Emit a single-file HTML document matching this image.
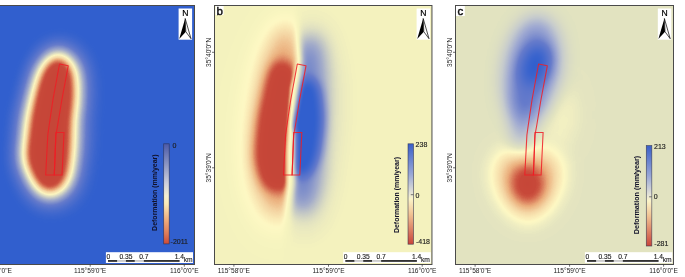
<!DOCTYPE html>
<html><head><meta charset="utf-8"><style>
html,body{margin:0;padding:0;background:#fff;width:685px;height:277px;overflow:hidden;}
svg{display:block;}
</style></head><body>
<svg width="685" height="277" viewBox="0 0 685 277">
<defs><filter id="bl1" x="-150%" y="-150%" width="400%" height="400%" color-interpolation-filters="sRGB"><feGaussianBlur stdDeviation="1"/></filter><filter id="bl1_5" x="-150%" y="-150%" width="400%" height="400%" color-interpolation-filters="sRGB"><feGaussianBlur stdDeviation="1.5"/></filter><filter id="bl2" x="-150%" y="-150%" width="400%" height="400%" color-interpolation-filters="sRGB"><feGaussianBlur stdDeviation="2"/></filter><filter id="bl2_5" x="-150%" y="-150%" width="400%" height="400%" color-interpolation-filters="sRGB"><feGaussianBlur stdDeviation="2.5"/></filter><filter id="bl3" x="-150%" y="-150%" width="400%" height="400%" color-interpolation-filters="sRGB"><feGaussianBlur stdDeviation="3"/></filter><filter id="bl3_5" x="-150%" y="-150%" width="400%" height="400%" color-interpolation-filters="sRGB"><feGaussianBlur stdDeviation="3.5"/></filter><filter id="bl4" x="-150%" y="-150%" width="400%" height="400%" color-interpolation-filters="sRGB"><feGaussianBlur stdDeviation="4"/></filter><filter id="bl5" x="-150%" y="-150%" width="400%" height="400%" color-interpolation-filters="sRGB"><feGaussianBlur stdDeviation="5"/></filter><filter id="bl6" x="-150%" y="-150%" width="400%" height="400%" color-interpolation-filters="sRGB"><feGaussianBlur stdDeviation="6"/></filter><filter id="bl7" x="-150%" y="-150%" width="400%" height="400%" color-interpolation-filters="sRGB"><feGaussianBlur stdDeviation="7"/></filter><filter id="bl8" x="-150%" y="-150%" width="400%" height="400%" color-interpolation-filters="sRGB"><feGaussianBlur stdDeviation="8"/></filter><filter id="bl9" x="-150%" y="-150%" width="400%" height="400%" color-interpolation-filters="sRGB"><feGaussianBlur stdDeviation="9"/></filter><filter id="bl10" x="-150%" y="-150%" width="400%" height="400%" color-interpolation-filters="sRGB"><feGaussianBlur stdDeviation="10"/></filter><filter id="bl12" x="-150%" y="-150%" width="400%" height="400%" color-interpolation-filters="sRGB"><feGaussianBlur stdDeviation="12"/></filter><filter id="bl14" x="-150%" y="-150%" width="400%" height="400%" color-interpolation-filters="sRGB"><feGaussianBlur stdDeviation="14"/></filter><filter id="cmA" filterUnits="userSpaceOnUse" x="-30" y="0" width="230" height="270" color-interpolation-filters="sRGB"><feComponentTransfer><feFuncR type="table" tableValues="0.776 0.777 0.778 0.779 0.780 0.781 0.782 0.783 0.784 0.789 0.795 0.801 0.811 0.822 0.834 0.845 0.857 0.868 0.880 0.892 0.903 0.915 0.924 0.930 0.936 0.943 0.949 0.955 0.961 0.964 0.966 0.969 0.972 0.974 0.977 0.980 0.983 0.985 0.988 0.975 0.961 0.946 0.932 0.917 0.903 0.888 0.874 0.859 0.845 0.830 0.816 0.801 0.788 0.775 0.761 0.748 0.735 0.722 0.708 0.695 0.682 0.668 0.655 0.642 0.630 0.620 0.610 0.599 0.589 0.579 0.568 0.558 0.548 0.538 0.527 0.517 0.507 0.496 0.486 0.476 0.465 0.455 0.445 0.435 0.424 0.414 0.404 0.396 0.391 0.385 0.380 0.374 0.369 0.363 0.358 0.352 0.347 0.341 0.336 0.330 0.324 0.319 0.313 0.308 0.302 0.297 0.291 0.286 0.280 0.275 0.269 0.264 0.258 0.252 0.247 0.241 0.236 0.230 0.225 0.219 0.214 0.208 0.203 0.197 0.196 0.196 0.196 0.196"/><feFuncG type="table" tableValues="0.275 0.276 0.277 0.279 0.280 0.282 0.283 0.284 0.286 0.297 0.312 0.327 0.353 0.388 0.423 0.457 0.492 0.527 0.562 0.596 0.631 0.666 0.696 0.721 0.746 0.771 0.795 0.820 0.844 0.856 0.868 0.880 0.892 0.904 0.916 0.928 0.940 0.952 0.964 0.954 0.942 0.931 0.919 0.907 0.895 0.884 0.872 0.860 0.849 0.837 0.825 0.813 0.802 0.791 0.779 0.768 0.756 0.745 0.733 0.722 0.711 0.699 0.688 0.676 0.666 0.658 0.650 0.642 0.634 0.625 0.617 0.609 0.601 0.592 0.584 0.576 0.568 0.559 0.551 0.543 0.535 0.526 0.518 0.510 0.502 0.494 0.485 0.481 0.478 0.475 0.472 0.469 0.466 0.463 0.460 0.458 0.455 0.452 0.449 0.446 0.443 0.440 0.437 0.435 0.432 0.429 0.426 0.423 0.420 0.417 0.414 0.412 0.409 0.406 0.403 0.400 0.397 0.394 0.391 0.389 0.386 0.383 0.380 0.377 0.376 0.376 0.376 0.376"/><feFuncB type="table" tableValues="0.220 0.221 0.222 0.222 0.223 0.224 0.225 0.226 0.227 0.234 0.243 0.251 0.268 0.291 0.314 0.338 0.361 0.384 0.407 0.430 0.453 0.477 0.500 0.525 0.550 0.574 0.599 0.624 0.648 0.658 0.669 0.679 0.689 0.700 0.710 0.721 0.731 0.741 0.752 0.754 0.755 0.757 0.758 0.759 0.760 0.761 0.763 0.764 0.765 0.766 0.768 0.769 0.771 0.773 0.775 0.776 0.778 0.780 0.782 0.784 0.786 0.788 0.789 0.791 0.792 0.792 0.793 0.793 0.793 0.793 0.793 0.793 0.794 0.794 0.794 0.794 0.794 0.794 0.795 0.795 0.795 0.795 0.795 0.796 0.796 0.796 0.796 0.796 0.797 0.797 0.797 0.798 0.798 0.798 0.799 0.799 0.799 0.799 0.800 0.800 0.800 0.801 0.801 0.801 0.802 0.802 0.802 0.803 0.803 0.803 0.804 0.804 0.804 0.805 0.805 0.805 0.806 0.806 0.806 0.807 0.807 0.807 0.807 0.808 0.808 0.808 0.808 0.808"/></feComponentTransfer></filter><filter id="cmB" filterUnits="userSpaceOnUse" x="210" y="0" width="230" height="270" color-interpolation-filters="sRGB"><feGaussianBlur stdDeviation="2.5"/><feComponentTransfer><feFuncR type="table" tableValues="0.776 0.778 0.780 0.781 0.783 0.784 0.791 0.799 0.808 0.820 0.831 0.843 0.855 0.866 0.878 0.889 0.901 0.913 0.923 0.928 0.933 0.938 0.943 0.948 0.954 0.959 0.963 0.967 0.971 0.975 0.979 0.983 0.987 0.991 0.995 0.991 0.984 0.977 0.970 0.963 0.952 0.938 0.925 0.911 0.897 0.884 0.870 0.856 0.842 0.829 0.815 0.801 0.788 0.775 0.761 0.748 0.735 0.722 0.708 0.695 0.682 0.668 0.655 0.642 0.630 0.620 0.610 0.599 0.589 0.579 0.568 0.558 0.548 0.538 0.527 0.517 0.507 0.496 0.486 0.476 0.465 0.455 0.445 0.435 0.424 0.414 0.404 0.396 0.391 0.385 0.380 0.374 0.369 0.363 0.358 0.352 0.347 0.341 0.336 0.330 0.324 0.319 0.313 0.308 0.302 0.297 0.291 0.286 0.280 0.275 0.269 0.264 0.258 0.252 0.247 0.241 0.236 0.230 0.225 0.219 0.214 0.208 0.203 0.197 0.196 0.196 0.196 0.196"/><feFuncG type="table" tableValues="0.275 0.277 0.279 0.281 0.284 0.286 0.303 0.322 0.347 0.381 0.416 0.451 0.485 0.520 0.555 0.590 0.624 0.659 0.691 0.711 0.732 0.753 0.773 0.794 0.814 0.835 0.852 0.867 0.882 0.897 0.912 0.927 0.942 0.957 0.972 0.973 0.969 0.964 0.959 0.955 0.945 0.933 0.921 0.909 0.897 0.885 0.873 0.861 0.849 0.837 0.825 0.813 0.802 0.791 0.779 0.768 0.756 0.745 0.733 0.722 0.711 0.699 0.688 0.676 0.666 0.658 0.650 0.642 0.634 0.625 0.617 0.609 0.601 0.592 0.584 0.576 0.568 0.559 0.551 0.543 0.535 0.526 0.518 0.510 0.502 0.494 0.485 0.481 0.478 0.475 0.472 0.469 0.466 0.463 0.460 0.458 0.455 0.452 0.449 0.446 0.443 0.440 0.437 0.435 0.432 0.429 0.426 0.423 0.420 0.417 0.414 0.412 0.409 0.406 0.403 0.400 0.397 0.394 0.391 0.389 0.386 0.383 0.380 0.377 0.376 0.376 0.376 0.376"/><feFuncB type="table" tableValues="0.220 0.221 0.223 0.224 0.226 0.227 0.237 0.248 0.264 0.287 0.310 0.333 0.356 0.379 0.403 0.426 0.449 0.472 0.495 0.515 0.536 0.556 0.577 0.598 0.618 0.639 0.655 0.669 0.683 0.696 0.710 0.724 0.737 0.751 0.765 0.765 0.761 0.756 0.751 0.747 0.746 0.748 0.751 0.753 0.755 0.757 0.759 0.761 0.763 0.765 0.767 0.769 0.771 0.773 0.775 0.776 0.778 0.780 0.782 0.784 0.786 0.788 0.789 0.791 0.792 0.792 0.793 0.793 0.793 0.793 0.793 0.793 0.794 0.794 0.794 0.794 0.794 0.794 0.795 0.795 0.795 0.795 0.795 0.796 0.796 0.796 0.796 0.796 0.797 0.797 0.797 0.798 0.798 0.798 0.799 0.799 0.799 0.799 0.800 0.800 0.800 0.801 0.801 0.801 0.802 0.802 0.802 0.803 0.803 0.803 0.804 0.804 0.804 0.805 0.805 0.805 0.806 0.806 0.806 0.807 0.807 0.807 0.807 0.808 0.808 0.808 0.808 0.808"/></feComponentTransfer></filter><filter id="cmC" filterUnits="userSpaceOnUse" x="450" y="0" width="230" height="270" color-interpolation-filters="sRGB"><feGaussianBlur stdDeviation="2.0"/><feComponentTransfer><feFuncR type="table" tableValues="0.776 0.778 0.780 0.781 0.783 0.784 0.791 0.799 0.808 0.820 0.831 0.843 0.855 0.866 0.878 0.889 0.901 0.913 0.923 0.928 0.933 0.938 0.943 0.948 0.954 0.959 0.963 0.967 0.971 0.975 0.979 0.983 0.987 0.991 0.995 0.986 0.971 0.957 0.943 0.928 0.914 0.899 0.885 0.877 0.868 0.859 0.850 0.841 0.832 0.823 0.814 0.805 0.796 0.787 0.776 0.764 0.751 0.739 0.727 0.714 0.702 0.690 0.677 0.665 0.653 0.640 0.628 0.617 0.606 0.594 0.583 0.572 0.561 0.550 0.538 0.527 0.516 0.505 0.494 0.482 0.471 0.460 0.449 0.438 0.426 0.415 0.404 0.396 0.391 0.385 0.380 0.374 0.369 0.363 0.358 0.352 0.347 0.341 0.336 0.330 0.324 0.319 0.313 0.308 0.302 0.297 0.291 0.286 0.280 0.275 0.269 0.264 0.258 0.252 0.247 0.241 0.236 0.230 0.225 0.219 0.214 0.208 0.203 0.197 0.196 0.196 0.196 0.196"/><feFuncG type="table" tableValues="0.275 0.277 0.279 0.281 0.284 0.286 0.303 0.322 0.347 0.381 0.416 0.451 0.485 0.520 0.555 0.590 0.624 0.659 0.691 0.711 0.732 0.753 0.773 0.794 0.814 0.835 0.852 0.867 0.882 0.897 0.912 0.927 0.942 0.957 0.972 0.968 0.957 0.946 0.934 0.923 0.912 0.900 0.890 0.882 0.874 0.867 0.859 0.852 0.844 0.837 0.829 0.822 0.814 0.806 0.797 0.786 0.775 0.764 0.754 0.743 0.732 0.721 0.710 0.700 0.689 0.678 0.667 0.658 0.649 0.640 0.631 0.622 0.613 0.604 0.594 0.585 0.576 0.567 0.558 0.549 0.540 0.531 0.522 0.513 0.504 0.495 0.486 0.481 0.478 0.475 0.472 0.469 0.466 0.463 0.460 0.458 0.455 0.452 0.449 0.446 0.443 0.440 0.437 0.435 0.432 0.429 0.426 0.423 0.420 0.417 0.414 0.412 0.409 0.406 0.403 0.400 0.397 0.394 0.391 0.389 0.386 0.383 0.380 0.377 0.376 0.376 0.376 0.376"/><feFuncB type="table" tableValues="0.220 0.221 0.223 0.224 0.226 0.227 0.237 0.248 0.264 0.287 0.310 0.333 0.356 0.379 0.403 0.426 0.449 0.472 0.495 0.515 0.536 0.556 0.577 0.598 0.618 0.639 0.655 0.669 0.683 0.696 0.710 0.724 0.737 0.751 0.765 0.767 0.765 0.763 0.761 0.759 0.757 0.755 0.753 0.758 0.762 0.767 0.771 0.776 0.780 0.785 0.789 0.793 0.798 0.802 0.805 0.806 0.808 0.810 0.811 0.813 0.814 0.816 0.817 0.819 0.820 0.822 0.823 0.822 0.821 0.820 0.818 0.817 0.815 0.814 0.813 0.811 0.810 0.809 0.807 0.806 0.805 0.803 0.802 0.801 0.799 0.798 0.797 0.796 0.797 0.797 0.797 0.798 0.798 0.798 0.799 0.799 0.799 0.799 0.800 0.800 0.800 0.801 0.801 0.801 0.802 0.802 0.802 0.803 0.803 0.803 0.804 0.804 0.804 0.805 0.805 0.805 0.806 0.806 0.806 0.807 0.807 0.807 0.807 0.808 0.808 0.808 0.808 0.808"/></feComponentTransfer></filter><clipPath id="clipa"><rect x="-24.0" y="5.5" width="218.5" height="259.0"/></clipPath><clipPath id="La"><polygon points="-637.80,-20.00 56.20,-20.00 58.20,5.00 58.20,40.00 59.20,60.00 56.20,75.00 53.20,87.00 52.20,100.00 50.70,120.00 49.70,135.00 48.70,152.00 48.70,175.00 49.20,182.00 47.20,212.00 45.20,300.00 -637.80,300.00"/></clipPath><clipPath id="Ra"><polygon points="462.20,-20.00 60.20,-20.00 62.20,5.00 63.20,40.00 65.20,60.00 64.20,75.00 62.70,87.00 60.70,100.00 57.20,120.00 56.70,128.00 58.70,134.00 58.70,152.00 58.70,175.00 58.20,182.00 54.20,212.00 52.20,300.00 462.20,300.00"/></clipPath><clipPath id="clipb"><rect x="214.5" y="5.5" width="217.45" height="259.0"/></clipPath><clipPath id="Lb"><polygon points="-400.00,-20.00 294.00,-20.00 296.00,5.00 296.00,40.00 297.00,60.00 294.00,75.00 291.00,87.00 290.00,100.00 288.50,120.00 287.50,135.00 286.50,152.00 286.50,175.00 287.00,182.00 285.00,212.00 283.00,300.00 -400.00,300.00"/></clipPath><clipPath id="Rb"><polygon points="700.00,-20.00 298.00,-20.00 300.00,5.00 301.00,40.00 303.00,60.00 302.00,75.00 300.50,87.00 298.50,100.00 295.00,120.00 294.50,128.00 296.50,134.00 296.50,152.00 296.50,175.00 296.00,182.00 292.00,212.00 290.00,300.00 700.00,300.00"/></clipPath><clipPath id="clipc"><rect x="455.5" y="5.5" width="218.0" height="259.0"/></clipPath><clipPath id="Lc"><polygon points="-158.70,-20.00 535.30,-20.00 537.30,5.00 537.30,40.00 538.30,60.00 535.30,75.00 532.30,87.00 531.30,100.00 529.80,120.00 528.80,135.00 527.80,152.00 527.80,175.00 528.30,182.00 526.30,212.00 524.30,300.00 -158.70,300.00"/></clipPath><clipPath id="Rc"><polygon points="941.30,-20.00 539.30,-20.00 541.30,5.00 542.30,40.00 544.30,60.00 543.30,75.00 541.80,87.00 539.80,100.00 536.30,120.00 535.80,128.00 537.80,134.00 537.80,152.00 537.80,175.00 537.30,182.00 533.30,212.00 531.30,300.00 941.30,300.00"/></clipPath><linearGradient id="cb163" x1="0" y1="0" x2="0" y2="1"><stop offset="0" stop-color="#4c5aa8"/><stop offset="0.2" stop-color="#8a94c2"/><stop offset="0.4" stop-color="#d0d1dc"/><stop offset="0.52" stop-color="#f5f0d2"/><stop offset="0.6" stop-color="#fbeab8"/><stop offset="0.75" stop-color="#f0b080"/><stop offset="0.9" stop-color="#de7a58"/><stop offset="1" stop-color="#cc4a38"/></linearGradient><linearGradient id="cb408" x1="0" y1="0" x2="0" y2="1"><stop offset="0" stop-color="#3a5fc8"/><stop offset="0.3" stop-color="#97a6d6"/><stop offset="0.5" stop-color="#e8e6d6"/><stop offset="0.55" stop-color="#fbf4c8"/><stop offset="0.7" stop-color="#f1c394"/><stop offset="1" stop-color="#c9443a"/></linearGradient><linearGradient id="cb646" x1="0" y1="0" x2="0" y2="1"><stop offset="0" stop-color="#3a5fc8"/><stop offset="0.3" stop-color="#97a6d6"/><stop offset="0.5" stop-color="#e8e6d6"/><stop offset="0.55" stop-color="#fbf4c8"/><stop offset="0.7" stop-color="#f1c394"/><stop offset="1" stop-color="#c9443a"/></linearGradient><clipPath id="sbc108"><rect x="105.9" y="252.2" width="87.1" height="10.800000000000011"/></clipPath><clipPath id="sbc345"><rect x="343.2" y="252.2" width="87.60000000000002" height="10.800000000000011"/></clipPath><clipPath id="sbc587"><rect x="584.9" y="252.2" width="87.39999999999998" height="10.800000000000011"/></clipPath><filter id="nf" filterUnits="userSpaceOnUse" x="0" y="0" width="685" height="277"><feOffset dx="0" dy="0"/></filter></defs>
<g clip-path="url(#clipa)"><g filter="url(#cmA)"><rect x="-40" y="-10" width="260" height="290" fill="rgb(255,255,255)"/><g transform="translate(5 3)"><path d="M58.50,49.50 C61.08,49.67 63.50,51.25 66.00,53.00 C68.50,54.75 71.42,56.83 73.50,60.00 C75.58,63.17 77.50,65.33 78.50,72.00 C79.50,78.67 79.83,92.00 79.50,100.00 C79.17,108.00 77.08,113.33 76.50,120.00 C75.92,126.67 76.25,133.33 76.00,140.00 C75.75,146.67 75.75,153.33 75.00,160.00 C74.25,166.67 73.33,174.67 71.50,180.00 C69.67,185.33 67.75,188.92 64.00,192.00 C60.25,195.08 53.75,198.50 49.00,198.50 C44.25,198.50 38.92,195.08 35.50,192.00 C32.08,188.92 30.87,184.50 28.50,180.00 C26.13,175.50 22.72,169.67 21.30,165.00 C19.88,160.33 19.88,156.17 20.00,152.00 C20.12,147.83 21.25,145.33 22.00,140.00 C22.75,134.67 23.50,126.67 24.50,120.00 C25.50,113.33 26.17,108.00 28.00,100.00 C29.83,92.00 33.08,78.67 35.50,72.00 C37.92,65.33 40.00,63.33 42.50,60.00 C45.00,56.67 47.83,53.75 50.50,52.00 C53.17,50.25 55.92,49.33 58.50,49.50Z" fill="rgb(102,102,102)" fill-opacity="0.7" filter="url(#bl14)"/></g><g transform="translate(2 -8)"><path d="M58.50,49.50 C61.08,49.67 63.50,51.25 66.00,53.00 C68.50,54.75 71.42,56.83 73.50,60.00 C75.58,63.17 77.50,65.33 78.50,72.00 C79.50,78.67 79.83,92.00 79.50,100.00 C79.17,108.00 77.08,113.33 76.50,120.00 C75.92,126.67 76.25,133.33 76.00,140.00 C75.75,146.67 84.00,160.00 75.00,160.00 C66.00,160.00 30.42,146.67 22.00,140.00 C13.58,133.33 23.50,126.67 24.50,120.00 C25.50,113.33 26.17,108.00 28.00,100.00 C29.83,92.00 33.08,78.67 35.50,72.00 C37.92,65.33 40.00,63.33 42.50,60.00 C45.00,56.67 47.83,53.75 50.50,52.00 C53.17,50.25 55.92,49.33 58.50,49.50Z" fill="rgb(128,128,128)" fill-opacity="0.45" filter="url(#bl12)"/></g><g transform="translate(0 9)"><path d="M76.50,120.00 C84.50,126.67 76.25,133.33 76.00,140.00 C75.75,146.67 75.75,153.33 75.00,160.00 C74.25,166.67 73.33,174.67 71.50,180.00 C69.67,185.33 67.75,188.92 64.00,192.00 C60.25,195.08 53.75,198.50 49.00,198.50 C44.25,198.50 38.92,195.08 35.50,192.00 C32.08,188.92 30.87,184.50 28.50,180.00 C26.13,175.50 22.72,169.67 21.30,165.00 C19.88,160.33 19.88,156.17 20.00,152.00 C20.12,147.83 21.25,145.33 22.00,140.00 C22.75,134.67 23.50,126.67 24.50,120.00 C25.50,113.33 19.33,100.00 28.00,100.00 C36.67,100.00 68.50,113.33 76.50,120.00Z" fill="rgb(128,128,128)" fill-opacity="0.45" filter="url(#bl12)"/></g><path d="M58.50,49.50 C61.08,49.67 63.50,51.25 66.00,53.00 C68.50,54.75 71.42,56.83 73.50,60.00 C75.58,63.17 77.50,65.33 78.50,72.00 C79.50,78.67 79.83,92.00 79.50,100.00 C79.17,108.00 77.08,113.33 76.50,120.00 C75.92,126.67 76.25,133.33 76.00,140.00 C75.75,146.67 75.75,153.33 75.00,160.00 C74.25,166.67 73.33,174.67 71.50,180.00 C69.67,185.33 67.75,188.92 64.00,192.00 C60.25,195.08 53.75,198.50 49.00,198.50 C44.25,198.50 38.92,195.08 35.50,192.00 C32.08,188.92 30.87,184.50 28.50,180.00 C26.13,175.50 22.72,169.67 21.30,165.00 C19.88,160.33 19.88,156.17 20.00,152.00 C20.12,147.83 21.25,145.33 22.00,140.00 C22.75,134.67 23.50,126.67 24.50,120.00 C25.50,113.33 26.17,108.00 28.00,100.00 C29.83,92.00 33.08,78.67 35.50,72.00 C37.92,65.33 40.00,63.33 42.50,60.00 C45.00,56.67 47.83,53.75 50.50,52.00 C53.17,50.25 55.92,49.33 58.50,49.50Z" fill="rgb(0,0,0)" filter="url(#bl9)"/></g></g><g clip-path="url(#clipb)"><g filter="url(#cmB)"><rect x="200" y="-10" width="260" height="290" fill="rgb(79,79,79)"/><g clip-path="url(#Lb)"><path d="M287.00,14.00 C292.00,13.17 295.00,22.33 298.00,30.00 C301.00,37.67 303.67,45.00 305.00,60.00 C306.33,75.00 306.17,100.00 306.00,120.00 C305.83,140.00 305.67,164.17 304.00,180.00 C302.33,195.83 300.00,205.83 296.00,215.00 C292.00,224.17 285.67,233.33 280.00,235.00 C274.33,236.67 267.33,232.50 262.00,225.00 C256.67,217.50 251.17,202.50 248.00,190.00 C244.83,177.50 243.50,163.33 243.00,150.00 C242.50,136.67 243.33,123.33 245.00,110.00 C246.67,96.67 249.17,82.50 253.00,70.00 C256.83,57.50 262.33,44.33 268.00,35.00 C273.67,25.67 282.00,14.83 287.00,14.00Z" fill="rgb(0,0,0)" fill-opacity="0.16" filter="url(#bl14)"/></g><g clip-path="url(#Rb)"><path d="M312.00,22.00 C316.83,20.33 321.50,30.33 325.00,40.00 C328.50,49.67 331.67,66.67 333.00,80.00 C334.33,93.33 333.67,106.67 333.00,120.00 C332.33,133.33 330.83,146.67 329.00,160.00 C327.17,173.33 325.17,188.67 322.00,200.00 C318.83,211.33 314.33,223.83 310.00,228.00 C305.67,232.17 299.67,234.67 296.00,225.00 C292.33,215.33 289.33,190.83 288.00,170.00 C286.67,149.17 286.67,120.00 288.00,100.00 C289.33,80.00 292.00,63.00 296.00,50.00 C300.00,37.00 307.17,23.67 312.00,22.00Z" fill="rgb(255,255,255)" fill-opacity="0.14" filter="url(#bl14)"/></g><g clip-path="url(#Lb)"><path d="M285.00,24.00 C288.00,23.83 291.50,29.33 294.00,34.00 C296.50,38.67 298.50,44.67 300.00,52.00 C301.50,59.33 302.17,66.67 303.00,78.00 C303.83,89.33 305.00,104.67 305.00,120.00 C305.00,135.33 304.33,157.33 303.00,170.00 C301.67,182.67 299.50,189.33 297.00,196.00 C294.50,202.67 291.33,206.50 288.00,210.00 C284.67,213.50 280.83,217.50 277.00,217.00 C273.17,216.50 268.50,212.17 265.00,207.00 C261.50,201.83 258.00,195.50 256.00,186.00 C254.00,176.50 253.17,161.00 253.00,150.00 C252.83,139.00 254.00,130.00 255.00,120.00 C256.00,110.00 257.17,100.67 259.00,90.00 C260.83,79.33 263.17,65.17 266.00,56.00 C268.83,46.83 272.83,40.33 276.00,35.00 C279.17,29.67 282.00,24.17 285.00,24.00Z" fill="rgb(0,0,0)" fill-opacity="0.5" filter="url(#bl10)"/></g><g clip-path="url(#Lb)"><path d="M280.00,61.00 C282.50,60.67 285.67,61.67 288.00,63.00 C290.33,64.33 292.17,66.17 294.00,69.00 C295.83,71.83 297.50,75.67 299.00,80.00 C300.50,84.33 302.17,88.33 303.00,95.00 C303.83,101.67 304.33,110.83 304.00,120.00 C303.67,129.17 302.00,140.83 301.00,150.00 C300.00,159.17 299.83,168.67 298.00,175.00 C296.17,181.33 294.00,185.33 290.00,188.00 C286.00,190.67 278.50,191.67 274.00,191.00 C269.50,190.33 266.00,188.33 263.00,184.00 C260.00,179.67 257.33,170.67 256.00,165.00 C254.67,159.33 254.67,157.50 255.00,150.00 C255.33,142.50 256.50,129.67 258.00,120.00 C259.50,110.33 262.33,99.33 264.00,92.00 C265.67,84.67 266.50,80.50 268.00,76.00 C269.50,71.50 271.00,67.50 273.00,65.00 C275.00,62.50 277.50,61.33 280.00,61.00Z" fill="rgb(0,0,0)" filter="url(#bl6)"/></g><g clip-path="url(#Rb)"><path d="M311.00,36.00 C313.33,36.50 316.33,40.33 318.00,46.00 C319.67,51.67 320.50,59.33 321.00,70.00 C321.50,80.67 321.33,96.67 321.00,110.00 C320.67,123.33 319.67,138.00 319.00,150.00 C318.33,162.00 318.33,173.17 317.00,182.00 C315.67,190.83 313.33,198.17 311.00,203.00 C308.67,207.83 305.83,211.00 303.00,211.00 C300.17,211.00 296.50,209.83 294.00,203.00 C291.50,196.17 289.00,185.50 288.00,170.00 C287.00,154.50 287.00,126.67 288.00,110.00 C289.00,93.33 291.33,81.17 294.00,70.00 C296.67,58.83 301.17,48.67 304.00,43.00 C306.83,37.33 308.67,35.50 311.00,36.00Z" fill="rgb(255,255,255)" fill-opacity="0.45" filter="url(#bl9)"/></g><g clip-path="url(#Rb)"><path d="M310.00,79.00 C312.50,79.67 315.33,82.83 317.00,86.00 C318.67,89.17 319.17,92.33 320.00,98.00 C320.83,103.67 322.17,111.67 322.00,120.00 C321.83,128.33 320.17,141.00 319.00,148.00 C317.83,155.00 316.50,158.17 315.00,162.00 C313.50,165.83 312.00,168.67 310.00,171.00 C308.00,173.33 305.33,175.50 303.00,176.00 C300.67,176.50 298.50,176.33 296.00,174.00 C293.50,171.67 289.33,171.00 288.00,162.00 C286.67,153.00 287.17,131.17 288.00,120.00 C288.83,108.83 290.67,101.33 293.00,95.00 C295.33,88.67 299.17,84.67 302.00,82.00 C304.83,79.33 307.50,78.33 310.00,79.00Z" fill="rgb(255,255,255)" filter="url(#bl5)"/></g></g></g><g clip-path="url(#clipc)"><g filter="url(#cmC)"><rect x="440" y="-10" width="260" height="290" fill="rgb(84,84,84)"/><ellipse cx="0" cy="0" rx="14" ry="30" transform="translate(560 115) rotate(0)" fill="rgb(69,69,69)" fill-opacity="0.8" filter="url(#bl10)"/><ellipse cx="0" cy="0" rx="25" ry="52" transform="translate(532 70) rotate(8)" fill="rgb(255,255,255)" fill-opacity="0.45" filter="url(#bl10)"/><path d="M530.00,70.00 C533.17,70.00 536.50,73.33 537.00,80.00 C537.50,86.67 534.33,100.00 533.00,110.00 C531.67,120.00 530.67,132.33 529.00,140.00 C527.33,147.67 525.50,155.00 523.00,156.00 C520.50,157.00 515.83,153.67 514.00,146.00 C512.17,138.33 511.33,121.00 512.00,110.00 C512.67,99.00 515.00,86.67 518.00,80.00 C521.00,73.33 526.83,70.00 530.00,70.00Z" fill="rgb(255,255,255)" fill-opacity="0.28" filter="url(#bl8)"/><ellipse cx="0" cy="0" rx="12.5" ry="20.5" transform="translate(535 65) rotate(18)" fill="rgb(255,255,255)" filter="url(#bl7)"/><path d="M528.00,150.00 C534.67,150.00 542.67,149.00 548.00,151.00 C553.33,153.00 557.83,157.17 560.00,162.00 C562.17,166.83 561.83,174.00 561.00,180.00 C560.17,186.00 558.00,192.50 555.00,198.00 C552.00,203.50 547.50,209.17 543.00,213.00 C538.50,216.83 533.00,221.00 528.00,221.00 C523.00,221.00 517.50,216.83 513.00,213.00 C508.50,209.17 504.00,203.50 501.00,198.00 C498.00,192.50 495.83,186.00 495.00,180.00 C494.17,174.00 493.83,166.83 496.00,162.00 C498.17,157.17 502.67,153.00 508.00,151.00 C513.33,149.00 521.33,150.00 528.00,150.00Z" fill="rgb(0,0,0)" fill-opacity="0.5" filter="url(#bl10)"/><path d="M527.00,166.00 C530.83,165.67 535.33,166.33 538.00,169.00 C540.67,171.67 542.67,177.50 543.00,182.00 C543.33,186.50 542.33,192.50 540.00,196.00 C537.67,199.50 532.83,202.67 529.00,203.00 C525.17,203.33 519.83,201.17 517.00,198.00 C514.17,194.83 512.33,188.50 512.00,184.00 C511.67,179.50 512.50,174.00 515.00,171.00 C517.50,168.00 523.17,166.33 527.00,166.00Z" fill="rgb(0,0,0)" filter="url(#bl8)"/></g></g><g filter="url(#nf)"><g clip-path="url(#clipa)"><polygon points="59.50,64.00 68.20,65.80 61.80,100.00 57.70,125.00 55.90,135.00 54.30,175.00 45.70,175.00 47.80,135.00 49.20,125.00 52.90,100.00" fill="none" stroke="#f01c24" stroke-opacity="0.85" stroke-width="1.1" stroke-linejoin="round"/><polygon points="55.90,132.50 64.00,132.50 62.00,175.00 54.30,175.00" fill="none" stroke="#f01c24" stroke-opacity="0.85" stroke-width="1.1"/></g><g clip-path="url(#clipb)"><polygon points="297.30,64.00 306.00,65.80 299.60,100.00 295.50,125.00 293.70,135.00 292.10,175.00 283.50,175.00 285.60,135.00 287.00,125.00 290.70,100.00" fill="none" stroke="#f01c24" stroke-opacity="0.85" stroke-width="1.1" stroke-linejoin="round"/><polygon points="293.70,132.50 301.80,132.50 299.80,175.00 292.10,175.00" fill="none" stroke="#f01c24" stroke-opacity="0.85" stroke-width="1.1"/></g><g clip-path="url(#clipc)"><polygon points="538.60,64.00 547.30,65.80 540.90,100.00 536.80,125.00 535.00,135.00 533.40,175.00 524.80,175.00 526.90,135.00 528.30,125.00 532.00,100.00" fill="none" stroke="#f01c24" stroke-opacity="0.85" stroke-width="1.1" stroke-linejoin="round"/><polygon points="535.00,132.50 543.10,132.50 541.10,175.00 533.40,175.00" fill="none" stroke="#f01c24" stroke-opacity="0.85" stroke-width="1.1"/></g><rect x="178.6" y="8.5" width="13.5" height="31.2" fill="#fff"/><text x="185.4" y="15.6" font-size="8.6" text-anchor="middle" font-family="'Liberation Sans', sans-serif" fill="#000" stroke="#000" stroke-width="0.2">N</text><polygon points="185.2,18.5 179.2,39.1 185.79999999999998,31.7" fill="#000"/><polygon points="185.2,18.5 191.0,38.7 185.79999999999998,31.7" fill="#fff" stroke="#000" stroke-width="0.7" stroke-linejoin="miter"/><rect x="416.6" y="8.5" width="13.5" height="31.2" fill="#fff"/><text x="423.40000000000003" y="15.6" font-size="8.6" text-anchor="middle" font-family="'Liberation Sans', sans-serif" fill="#000" stroke="#000" stroke-width="0.2">N</text><polygon points="423.20000000000005,18.5 417.20000000000005,39.1 423.8,31.7" fill="#000"/><polygon points="423.20000000000005,18.5 429.0,38.7 423.8,31.7" fill="#fff" stroke="#000" stroke-width="0.7" stroke-linejoin="miter"/><rect x="657.8" y="8.5" width="13.5" height="31.2" fill="#fff"/><text x="664.5999999999999" y="15.6" font-size="8.6" text-anchor="middle" font-family="'Liberation Sans', sans-serif" fill="#000" stroke="#000" stroke-width="0.2">N</text><polygon points="664.4,18.5 658.4,39.1 665.0,31.7" fill="#000"/><polygon points="664.4,18.5 670.1999999999999,38.7 665.0,31.7" fill="#fff" stroke="#000" stroke-width="0.7" stroke-linejoin="miter"/><rect x="215.6" y="6" width="8.0" height="9.0" fill="#fff"/><text x="216.5" y="14.7" font-size="11.5" font-family="'Liberation Sans', sans-serif" fill="#111" stroke="#111" stroke-width="0.45">b</text><rect x="456" y="6" width="8.8" height="10.0" fill="#fff"/><text x="457.6" y="15.4" font-size="11.5" font-family="'Liberation Sans', sans-serif" fill="#111" stroke="#111" stroke-width="0.45">c</text><rect x="163.7" y="143.8" width="5.5" height="100.1" fill="url(#cb163)" stroke="#2a2e4a" stroke-opacity="0.75" stroke-width="0.7"/><text x="172.5" y="147.8" font-size="7.0" font-family="'Liberation Sans', sans-serif" fill="#1e1e1e" stroke="#1e1e1e" stroke-width="0.15">0</text><text x="170.6" y="244.0" font-size="7.0" font-family="'Liberation Sans', sans-serif" fill="#1e1e1e" stroke="#1e1e1e" stroke-width="0.15">-2011</text><text transform="translate(156.9 192.65) rotate(-90)" font-size="7.0" font-weight="bold" text-anchor="middle" textLength="76.5" lengthAdjust="spacingAndGlyphs" font-family="'Liberation Sans', sans-serif" fill="#101028">Deformation (mm/year)</text><rect x="408.0" y="143.8" width="5.5" height="100.39999999999998" fill="url(#cb408)" stroke="#2a2e4a" stroke-opacity="0.75" stroke-width="0.7"/><text x="415.6" y="147.2" font-size="7.0" font-family="'Liberation Sans', sans-serif" fill="#1e1e1e" stroke="#1e1e1e" stroke-width="0.15">238</text><text x="415.5" y="197.6" font-size="7.0" font-family="'Liberation Sans', sans-serif" fill="#1e1e1e" stroke="#1e1e1e" stroke-width="0.15">0</text><text x="416.0" y="244.3" font-size="7.0" font-family="'Liberation Sans', sans-serif" fill="#1e1e1e" stroke="#1e1e1e" stroke-width="0.15">-418</text><line x1="410.8" y1="194.7" x2="413.5" y2="194.7" stroke="#555" stroke-width="0.8"/><text transform="translate(398.8 195.05) rotate(-90)" font-size="7.0" font-weight="bold" text-anchor="middle" textLength="76.0" lengthAdjust="spacingAndGlyphs" font-family="'Liberation Sans', sans-serif" fill="#101028">Deformation (mm/year)</text><rect x="646.3" y="145.6" width="5.5" height="100.4" fill="url(#cb646)" stroke="#2a2e4a" stroke-opacity="0.75" stroke-width="0.7"/><text x="654.0" y="149.1" font-size="7.0" font-family="'Liberation Sans', sans-serif" fill="#1e1e1e" stroke="#1e1e1e" stroke-width="0.15">213</text><text x="653.8" y="199.4" font-size="7.0" font-family="'Liberation Sans', sans-serif" fill="#1e1e1e" stroke="#1e1e1e" stroke-width="0.15">0</text><text x="654.3" y="246.1" font-size="7.0" font-family="'Liberation Sans', sans-serif" fill="#1e1e1e" stroke="#1e1e1e" stroke-width="0.15">-281</text><line x1="649.0999999999999" y1="196.8" x2="651.8" y2="196.8" stroke="#555" stroke-width="0.8"/><text transform="translate(638.7 195.0) rotate(-90)" font-size="7.0" font-weight="bold" text-anchor="middle" textLength="78.5" lengthAdjust="spacingAndGlyphs" font-family="'Liberation Sans', sans-serif" fill="#101028">Deformation (mm/year)</text><rect x="105.9" y="252.2" width="87.1" height="10.800000000000011" fill="#fff"/><rect x="108.00" y="260.2" width="9.31" height="1.5" fill="#000"/><rect x="117.31" y="260.2" width="8.59" height="1.5" fill="#c0c0c0"/><rect x="125.90" y="260.2" width="8.95" height="1.5" fill="#000"/><rect x="134.85" y="260.2" width="8.95" height="1.5" fill="#c0c0c0"/><rect x="143.80" y="260.2" width="35.80" height="1.5" fill="#000"/><g clip-path="url(#sbc108)"><text x="108.3" y="258.5" font-size="6.7" text-anchor="middle" font-family="'Liberation Sans', sans-serif" fill="#1a1a1a" stroke="#1a1a1a" stroke-width="0.12">0</text><text x="125.9" y="258.5" font-size="6.7" text-anchor="middle" font-family="'Liberation Sans', sans-serif" fill="#1a1a1a" stroke="#1a1a1a" stroke-width="0.12">0.35</text><text x="143.8" y="258.5" font-size="6.7" text-anchor="middle" font-family="'Liberation Sans', sans-serif" fill="#1a1a1a" stroke="#1a1a1a" stroke-width="0.12">0.7</text><text x="179.29999999999998" y="258.5" font-size="6.7" text-anchor="middle" font-family="'Liberation Sans', sans-serif" fill="#1a1a1a" stroke="#1a1a1a" stroke-width="0.12">1.4</text><text x="183.7" y="262.0" font-size="6.7" font-family="'Liberation Sans', sans-serif" fill="#1a1a1a" stroke="#1a1a1a" stroke-width="0.12">km</text></g><rect x="343.2" y="252.2" width="87.60000000000002" height="10.800000000000011" fill="#fff"/><rect x="345.30" y="260.2" width="9.31" height="1.5" fill="#000"/><rect x="354.61" y="260.2" width="8.59" height="1.5" fill="#c0c0c0"/><rect x="363.20" y="260.2" width="8.95" height="1.5" fill="#000"/><rect x="372.15" y="260.2" width="8.95" height="1.5" fill="#c0c0c0"/><rect x="381.10" y="260.2" width="35.80" height="1.5" fill="#000"/><g clip-path="url(#sbc345)"><text x="345.6" y="258.5" font-size="6.7" text-anchor="middle" font-family="'Liberation Sans', sans-serif" fill="#1a1a1a" stroke="#1a1a1a" stroke-width="0.12">0</text><text x="363.2" y="258.5" font-size="6.7" text-anchor="middle" font-family="'Liberation Sans', sans-serif" fill="#1a1a1a" stroke="#1a1a1a" stroke-width="0.12">0.35</text><text x="381.1" y="258.5" font-size="6.7" text-anchor="middle" font-family="'Liberation Sans', sans-serif" fill="#1a1a1a" stroke="#1a1a1a" stroke-width="0.12">0.7</text><text x="416.59999999999997" y="258.5" font-size="6.7" text-anchor="middle" font-family="'Liberation Sans', sans-serif" fill="#1a1a1a" stroke="#1a1a1a" stroke-width="0.12">1.4</text><text x="421.0" y="262.0" font-size="6.7" font-family="'Liberation Sans', sans-serif" fill="#1a1a1a" stroke="#1a1a1a" stroke-width="0.12">km</text></g><rect x="584.9" y="252.2" width="87.39999999999998" height="10.800000000000011" fill="#fff"/><rect x="587.00" y="260.2" width="9.31" height="1.5" fill="#000"/><rect x="596.31" y="260.2" width="8.59" height="1.5" fill="#c0c0c0"/><rect x="604.90" y="260.2" width="8.95" height="1.5" fill="#000"/><rect x="613.85" y="260.2" width="8.95" height="1.5" fill="#c0c0c0"/><rect x="622.80" y="260.2" width="35.80" height="1.5" fill="#000"/><g clip-path="url(#sbc587)"><text x="587.3" y="258.5" font-size="6.7" text-anchor="middle" font-family="'Liberation Sans', sans-serif" fill="#1a1a1a" stroke="#1a1a1a" stroke-width="0.12">0</text><text x="604.9" y="258.5" font-size="6.7" text-anchor="middle" font-family="'Liberation Sans', sans-serif" fill="#1a1a1a" stroke="#1a1a1a" stroke-width="0.12">0.35</text><text x="622.8" y="258.5" font-size="6.7" text-anchor="middle" font-family="'Liberation Sans', sans-serif" fill="#1a1a1a" stroke="#1a1a1a" stroke-width="0.12">0.7</text><text x="658.3000000000001" y="258.5" font-size="6.7" text-anchor="middle" font-family="'Liberation Sans', sans-serif" fill="#1a1a1a" stroke="#1a1a1a" stroke-width="0.12">1.4</text><text x="662.7" y="262.0" font-size="6.7" font-family="'Liberation Sans', sans-serif" fill="#1a1a1a" stroke="#1a1a1a" stroke-width="0.12">km</text></g><rect x="-24.0" y="5.5" width="218.5" height="259.0" fill="none" stroke="#4a4a4a" stroke-width="1"/><rect x="214.5" y="5.5" width="217.45" height="259.0" fill="none" stroke="#4a4a4a" stroke-width="1"/><rect x="455.5" y="5.5" width="218.0" height="259.0" fill="none" stroke="#4a4a4a" stroke-width="1"/><line x1="90.2" y1="264.5" x2="90.2" y2="266.7" stroke="#333" stroke-width="0.7"/><text x="90.2" y="272.8" font-size="6.6" text-anchor="middle" font-family="'Liberation Sans', sans-serif" fill="#222">115°59'0"E</text><line x1="184.3" y1="264.5" x2="184.3" y2="266.7" stroke="#333" stroke-width="0.7"/><text x="184.3" y="272.8" font-size="6.6" text-anchor="middle" font-family="'Liberation Sans', sans-serif" fill="#222">116°0'0"E</text><line x1="233.9" y1="264.5" x2="233.9" y2="266.7" stroke="#333" stroke-width="0.7"/><text x="233.9" y="272.8" font-size="6.6" text-anchor="middle" font-family="'Liberation Sans', sans-serif" fill="#222">115°58'0"E</text><line x1="328.5" y1="264.5" x2="328.5" y2="266.7" stroke="#333" stroke-width="0.7"/><text x="328.5" y="272.8" font-size="6.6" text-anchor="middle" font-family="'Liberation Sans', sans-serif" fill="#222">115°59'0"E</text><line x1="422.2" y1="264.5" x2="422.2" y2="266.7" stroke="#333" stroke-width="0.7"/><text x="422.2" y="272.8" font-size="6.6" text-anchor="middle" font-family="'Liberation Sans', sans-serif" fill="#222">116°0'0"E</text><line x1="475.1" y1="264.5" x2="475.1" y2="266.7" stroke="#333" stroke-width="0.7"/><text x="475.1" y="272.8" font-size="6.6" text-anchor="middle" font-family="'Liberation Sans', sans-serif" fill="#222">115°58'0"E</text><line x1="569.6" y1="264.5" x2="569.6" y2="266.7" stroke="#333" stroke-width="0.7"/><text x="569.6" y="272.8" font-size="6.6" text-anchor="middle" font-family="'Liberation Sans', sans-serif" fill="#222">115°59'0"E</text><line x1="663.6" y1="264.5" x2="663.6" y2="266.7" stroke="#333" stroke-width="0.7"/><text x="663.6" y="272.8" font-size="6.6" text-anchor="middle" font-family="'Liberation Sans', sans-serif" fill="#222">116°0'0"E</text><line x1="-4.2" y1="264.5" x2="-4.2" y2="266.7" stroke="#333" stroke-width="0.7"/><text x="-4.2" y="272.8" font-size="6.6" text-anchor="middle" font-family="'Liberation Sans', sans-serif" fill="#222">115°58'0"E</text><line x1="212.0" y1="52.3" x2="214.5" y2="52.3" stroke="#333" stroke-width="0.7"/><text transform="translate(211.0 52.3) rotate(-90)" font-size="6.6" text-anchor="middle" font-family="'Liberation Sans', sans-serif" fill="#222">35°40'0"N</text><line x1="212.0" y1="167.8" x2="214.5" y2="167.8" stroke="#333" stroke-width="0.7"/><text transform="translate(211.0 167.8) rotate(-90)" font-size="6.6" text-anchor="middle" font-family="'Liberation Sans', sans-serif" fill="#222">35°39'0"N</text><line x1="453.0" y1="52.3" x2="455.5" y2="52.3" stroke="#333" stroke-width="0.7"/><text transform="translate(452.0 52.3) rotate(-90)" font-size="6.6" text-anchor="middle" font-family="'Liberation Sans', sans-serif" fill="#222">35°40'0"N</text><line x1="453.0" y1="167.8" x2="455.5" y2="167.8" stroke="#333" stroke-width="0.7"/><text transform="translate(452.0 167.8) rotate(-90)" font-size="6.6" text-anchor="middle" font-family="'Liberation Sans', sans-serif" fill="#222">35°39'0"N</text></g>
</svg>
</body></html>
